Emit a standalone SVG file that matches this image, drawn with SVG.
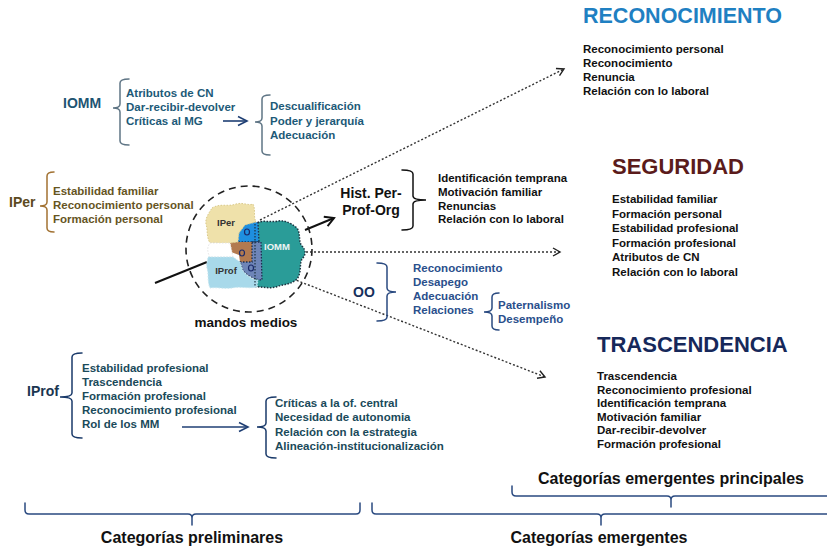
<svg xmlns="http://www.w3.org/2000/svg" width="827" height="550" viewBox="0 0 827 550">
<style>
text{font-family:"Liberation Sans",Arial,Helvetica,sans-serif;font-weight:bold}
.s{font-size:11.5px}
.lab{font-size:14px}
.ttl{font-size:22px}
.bot{font-size:16px;fill:#111;text-anchor:middle}
.blk{fill:#111}
.br{fill:none;stroke-width:1.5;stroke-linecap:round}
.dot{fill:none;stroke:#333;stroke-width:1.4;stroke-dasharray:2 2}
.sol{fill:none;stroke-width:2}
.bl{font-size:9.5px;text-anchor:middle}
.oc{fill:none;stroke:#1a2a6a;stroke-width:1.2}
</style>
<defs>
<marker id="chk" markerWidth="10" markerHeight="10" refX="8" refY="5" orient="auto" markerUnits="userSpaceOnUse">
<path d="M1,1 L8,5 L1,9" fill="none" stroke="#222" stroke-width="1.4"/>
</marker>
<marker id="chb" markerWidth="12" markerHeight="12" refX="10" refY="6" orient="auto" markerUnits="userSpaceOnUse">
<path d="M1,1 L10,6 L1,11" fill="none" stroke="#111" stroke-width="2"/>
</marker>
<marker id="chn" markerWidth="12" markerHeight="12" refX="10" refY="6" orient="auto" markerUnits="userSpaceOnUse">
<path d="M1,1.5 L10,6 L1,10.5" fill="none" stroke="#1f3f74" stroke-width="1.6"/>
</marker>
</defs>
<rect width="827" height="550" fill="#fff"/>

<g id="connectors">
<line class="dot" x1="260" y1="220" x2="564" y2="69" marker-end="url(#chk)"/>
<line class="dot" x1="246" y1="252" x2="560" y2="252" marker-end="url(#chk)"/>
<line class="dot" x1="252" y1="263" x2="545" y2="377" marker-end="url(#chk)"/>
<line class="sol" stroke="#111" x1="305" y1="230" x2="334" y2="218" marker-end="url(#chb)"/>
<line class="sol" stroke="#111" x1="155" y1="283" x2="207" y2="262"/>
<line stroke="#1f3f74" stroke-width="1.6" x1="223" y1="121" x2="247" y2="121" marker-end="url(#chn)"/>
<line stroke="#1f3f74" stroke-width="1.6" x1="182" y1="427" x2="248" y2="427" marker-end="url(#chn)"/>
</g>

<g id="mandos-medios">
<circle cx="249" cy="249" r="63" fill="none" stroke="#222" stroke-width="1.6" stroke-dasharray="7 5"/>
<path d="M255,224 C262,219 270,223 278,221 C286,220 292,224 297,228 C301,234 298,241 302,246 C306,250 306,255 302,259 C299,265 302,272 297,279 C291,285 283,284 276,287 C268,289 260,286 254,287 Z" fill="#2a9c98" stroke="#1d3340" stroke-width="1.5" stroke-dasharray="1.5 1.5"/>
<path d="M240,225 C246,221 253,220 258,223 L259,242 L238,242 C236,236 236,230 240,225 Z" fill="#1e8fe0" stroke="#1d2e50" stroke-width="1.3" stroke-dasharray="1.5 1.5"/>
<path d="M230,242 L252,242 L252,262 L240,262 L239,255 L231,252 Z" fill="#b27a50"/>
<path d="M252,242 L261,242 L262,280 C256,280 249,277 243,271 L240,262 L252,262 Z" fill="#6e85b8" stroke="#1d2e50" stroke-width="1.3" stroke-dasharray="1.5 1.5"/>
<path d="M212,208 C220,203 228,207 236,204 C243,202 249,206 253,204 C256,210 253,216 256,222 L245,225 L239,233 L238,242 L230,243 C223,244 216,242 210,243 C206,236 208,230 206,224 C205,218 209,213 212,208 Z" fill="#efe1aa" stroke="#d9c98a" stroke-width="1" stroke-dasharray="1.5 1.5"/>
<path d="M210,243 L230,243 L232,252 L233,257 L210,257 C207,252 207,247 210,243 Z" fill="#fff" stroke="#e6e6e6" stroke-width="1" stroke-dasharray="1.5 1.5"/>
<path d="M208,257 L233,257 L240,262 L243,271 C248,277 254,280 258,280 L257,287 C248,289 240,286 232,288 C224,289 216,287 210,288 C207,281 209,274 207,268 C206,263 208,260 208,257 Z" fill="#a8d9ea" stroke="#c8e6ef" stroke-width="1" stroke-dasharray="1.5 1.5"/>
<line x1="255" y1="224" x2="255" y2="287" stroke="#1d3340" stroke-width="1.2" stroke-dasharray="1.5 1.5"/>
<ellipse class="oc" cx="247" cy="232" rx="2.5" ry="3"/>
<ellipse class="oc" cx="242" cy="253" rx="2.5" ry="3"/>
<ellipse class="oc" cx="251" cy="268" rx="2.5" ry="3"/>
<text class="bl" x="226" y="226" fill="#333">IPer</text>
<text class="bl" x="277" y="250" fill="#eef4f4">IOMM</text>
<text class="bl" x="226" y="274" fill="#333">IProf</text>
<text class="blk" x="246" y="327" font-size="13.5" text-anchor="middle">mandos medios</text>
</g>

<g id="iomm">
<text class="lab" x="63" y="108" fill="#1d5472">IOMM</text>
<path class="br" stroke="#5f7585" d="M129,79 Q120,79 120,83 L120,104 Q120,108 113,108 Q120,108 120,112 L120,141 Q120,145 129,145"/>
<text class="s" x="126" y="97" fill="#1d5a78">Atributos de CN</text>
<text class="s" x="126" y="111" fill="#1d5a78">Dar-recibir-devolver</text>
<text class="s" x="126" y="125" fill="#1d5a78">Críticas al MG</text>
</g>
<g id="iomm-result">
<path class="br" stroke="#5f7585" d="M270,95 Q262,95 262,99 L262,118 Q262,122 255,122 Q262,122 262,126 L262,151 Q262,155 270,155"/>
<text class="s" x="270" y="110" fill="#1d5a78">Descualificación</text>
<text class="s" x="270" y="125" fill="#1d5a78">Poder y jerarquía</text>
<text class="s" x="270" y="139" fill="#1d5a78">Adecuación</text>
</g>

<g id="iper">
<text class="lab" x="9" y="207" fill="#5c4a1e">IPer</text>
<path class="br" stroke="#a27232" d="M54,172 Q47,172 47,176 L47,202 Q47,206 40,206 Q47,206 47,210 L47,228 Q47,232 54,232"/>
<text class="s" x="53" y="195" fill="#66551f">Estabilidad familiar</text>
<text class="s" x="53" y="209" fill="#66551f">Reconocimiento personal</text>
<text class="s" x="53" y="223" fill="#66551f">Formación personal</text>
</g>

<g id="hist">
<text class="blk" x="371" y="198" font-size="14" text-anchor="middle">Hist. Per-</text>
<text class="blk" x="371" y="215" font-size="14" text-anchor="middle">Prof-Org</text>
<path class="br" stroke="#111" d="M402,170 Q413,170 413,174 L413,196 Q413,200 426,200 Q413,200 413,204 L413,226 Q413,230 402,230"/>
<text class="s blk" x="438" y="182">Identificación temprana</text>
<text class="s blk" x="438" y="196">Motivación familiar</text>
<text class="s blk" x="438" y="209.5">Renuncias</text>
<text class="s blk" x="438" y="223">Relación con lo laboral</text>
</g>

<g id="oo">
<text class="lab" x="353" y="297" fill="#17305c">OO</text>
<path class="br" stroke="#2a4a80" d="M377,263 Q387,263 387,267 L387,288 Q387,292 396,292 Q387,292 387,296 L387,317 Q387,321 377,321"/>
<text class="s" x="413" y="272" fill="#2a4f8c">Reconocimiento</text>
<text class="s" x="413" y="286" fill="#2a4f8c">Desapego</text>
<text class="s" x="413" y="300" fill="#2a4f8c">Adecuación</text>
<text class="s" x="413" y="314" fill="#2a4f8c">Relaciones</text>
</g>
<g id="relaciones">
<path class="br" stroke="#2a4a80" d="M499,293 Q492,293 492,297 L492,308 Q492,312 484,312 Q492,312 492,316 L492,326 Q492,330 499,330"/>
<text class="s" x="498" y="309" fill="#2a4f8c">Paternalismo</text>
<text class="s" x="498" y="323" fill="#2a4f8c">Desempeño</text>
</g>

<g id="iprof">
<text class="lab" x="27" y="396" fill="#1a3550">IProf</text>
<path class="br" stroke="#1a3a6a" d="M82,353 Q72,353 72,357 L72,393 Q72,397 60,397 Q72,397 72,401 L72,434 Q72,438 82,438"/>
<text class="s" x="82" y="372" fill="#1a4a5a">Estabilidad profesional</text>
<text class="s" x="82" y="386" fill="#1a4a5a">Trascendencia</text>
<text class="s" x="82" y="400" fill="#1a4a5a">Formación profesional</text>
<text class="s" x="82" y="414" fill="#1a4a5a">Reconocimiento profesional</text>
<text class="s" x="82" y="428" fill="#1a4a5a">Rol de los MM</text>
</g>
<g id="iprof-result">
<path class="br" stroke="#1a3a6a" d="M276,397 Q266,397 266,401 L266,423 Q266,427 257,427 Q266,427 266,431 L266,454 Q266,458 276,458"/>
<text class="s" x="275" y="407" fill="#1a4a5a">Críticas a la of. central</text>
<text class="s" x="275" y="421" fill="#1a4a5a">Necesidad de autonomia</text>
<text class="s" x="275" y="435.5" fill="#1a4a5a">Relación con la estrategia</text>
<text class="s" x="275" y="450" fill="#1a4a5a">Alineación-institucionalización</text>
</g>

<g id="reconocimiento">
<text x="583" y="23" font-size="21.5" fill="#1f80c2">RECONOCIMIENTO</text>
<text class="s blk" x="583" y="53">Reconocimiento personal</text>
<text class="s blk" x="583" y="67">Reconocimiento</text>
<text class="s blk" x="583" y="81">Renuncia</text>
<text class="s blk" x="583" y="95">Relación con lo laboral</text>
</g>

<g id="seguridad">
<text class="ttl" x="612" y="174" fill="#5b1b1b">SEGURIDAD</text>
<text class="s blk" x="612" y="203">Estabilidad familiar</text>
<text class="s blk" x="612" y="217.6">Formación personal</text>
<text class="s blk" x="612" y="232.2">Estabilidad profesional</text>
<text class="s blk" x="612" y="246.8">Formación profesional</text>
<text class="s blk" x="612" y="261.4">Atributos de CN</text>
<text class="s blk" x="612" y="276">Relación con lo laboral</text>
</g>

<g id="trascendencia">
<text class="ttl" x="597" y="352" fill="#16285a">TRASCENDENCIA</text>
<text class="s blk" x="597" y="380">Trascendencia</text>
<text class="s blk" x="597" y="393.6">Reconocimiento profesional</text>
<text class="s blk" x="597" y="407.2">Identificación temprana</text>
<text class="s blk" x="597" y="420.8">Motivación familiar</text>
<text class="s blk" x="597" y="434.4">Dar-recibir-devolver</text>
<text class="s blk" x="597" y="448">Formación profesional</text>
</g>

<g id="bottom-braces">
<path class="br" stroke="#2a4a80" stroke-width="1.7" d="M25,503 V510 Q25,514 29,514 H188 Q192,514 192,518 V525 M192,518 Q192,514 196,514 H356 Q360,514 360,510 V503"/>
<path class="br" stroke="#2a4a80" stroke-width="1.7" d="M372,503 V510 Q372,514 376,514 H597 Q601,514 601,518 V525 M601,518 Q601,514 605,514 H830"/>
<path class="br" stroke="#2a4a80" stroke-width="1.7" d="M512,486 V492 Q512,496 516,496 H667 Q671,496 671,500 V507 M671,500 Q671,496 675,496 H830"/>
<text class="bot" x="671" y="484">Categorías emergentes principales</text>
<text class="bot" x="192" y="543">Categorías preliminares</text>
<text class="bot" x="599" y="543">Categorías emergentes</text>
</g>
</svg>
